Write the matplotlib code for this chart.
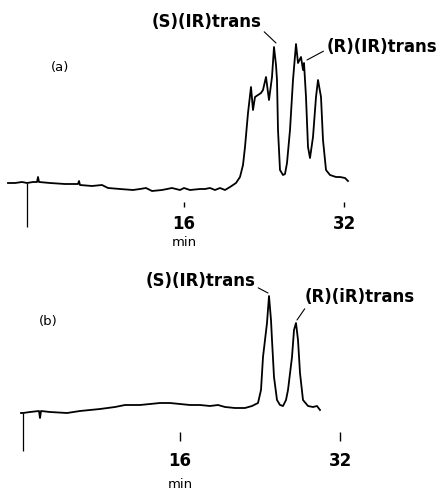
import matplotlib.pyplot as plt

# chromatogram (a): retention time (min) / detector response (arb. units)
time_a = [-1.6, -0.9, -0.2, 0.3, 0.9, 1.3, 1.4, 1.5, 2.6, 4.1, 5.4, 5.5, 5.6, 6.8, 7.8,
          8.4, 9.6, 10.9, 11.6, 12.2, 12.8, 13.8, 14.8, 15.6, 16.0, 16.6, 17.6, 18.1,
          18.6, 19.1, 19.6, 20.1, 20.6, 21.2, 21.6, 21.9, 22.1, 22.4, 22.7, 22.9, 23.1,
          23.4, 23.7, 23.9, 24.2, 24.5, 24.8, 25.0, 25.2, 25.3, 25.4, 25.6, 25.9, 26.1,
          26.3, 26.6, 26.9, 27.2, 27.4, 27.7, 27.9, 28.0, 28.2, 28.4, 28.6, 28.9, 29.2,
          29.4, 29.7, 29.9, 30.2, 30.6, 31.2, 31.6, 32.1, 32.4]
resp_a = [7, 7, 8, 7, 8, 8, 13, 8, 7, 6, 6, 9, 5, 4, 5,
          2, 1, 0, 1, 2, -1, 0, 2, 0, 2, 0, 1, 1,
          2, 0, 2, 0, 3, 7, 13, 25, 43, 77, 103, 80, 93,
          95, 97, 100, 113, 90, 113, 143, 125, 110, 60, 20, 15, 16,
          27, 60, 110, 146, 127, 133, 120, 127, 93, 43, 32, 53, 93,
          110, 93, 50, 20, 15, 13, 13, 12, 9]

# chromatogram (b)
time_b = [0.1, 0.3, 1.0, 1.9, 2.0, 2.1, 3.0, 4.7, 6.0, 8.0, 9.5, 10.5, 12.0, 13.0,
          14.0, 15.0, 16.0, 17.0, 18.0, 19.0, 19.8, 20.5, 21.5, 22.5, 23.2, 23.8,
          24.1, 24.3, 24.7, 24.9, 25.1, 25.2, 25.4, 25.7, 26.0, 26.3, 26.6, 26.8,
          27.2, 27.4, 27.6, 27.8, 28.0, 28.3, 28.8, 29.3, 29.7, 30.0]
resp_b = [-3, -3, -2, -1, -8, -1, -2, -3, -1, 1, 3, 5, 5, 6,
          7, 7, 6, 5, 5, 4, 5, 3, 2, 2, 4, 7,
          20, 53, 87, 114, 90, 70, 33, 10, 5, 4, 10, 20,
          53, 80, 87, 70, 37, 10, 4, 3, 4, 0]

ticks = [16, 32]
inject_t = 0.3

fig = plt.figure(figsize=(4.42, 4.92), dpi=100)
ax1 = fig.add_axes([0, 242/492, 1, 250/492])
ax2 = fig.add_axes([0, 0, 1, 242/492])

ax1.plot(time_a, resp_a, color='black', lw=1.3)
ax2.plot(time_b, resp_b, color='black', lw=1.3)

# injection marks
ax1.vlines(inject_t, -37, 7, color='black', lw=0.9)
ax2.vlines(inject_t, -41, -3, color='black', lw=0.9)

ax1.set_xlim(-2.4, 41.8)
ax1.set_ylim(-60, 190)
ax2.set_xlim(-2.0, 42.2)
ax2.set_ylim(-82, 160)

for ax, spine_y, tlen, pad, min_y in [(ax1, -17, 3.6, 5.5, -53), (ax2, -31, 6.5, 8.0, -75)]:
    for s in ['top', 'right', 'left', 'bottom']:
        ax.spines[s].set_visible(False)
    ax.spines['bottom'].set_position(('data', spine_y))
    ax.set_yticks([])
    ax.set_xticks(ticks)
    ax.set_xticklabels([str(t) for t in ticks])
    ax.tick_params(axis='x', direction='in', length=tlen, width=1.0, pad=pad,
                   labelsize=12)
    for lab in ax.get_xticklabels():
        lab.set_fontweight('bold')
    ax.text(16, min_y, 'min', ha='center', va='center', fontsize=9.5)
    ax.patch.set_alpha(0)

ax1.text(3.65, 123, '(a)', ha='center', va='center', fontsize=9.5)
ax2.text(2.8, 88, '(b)', ha='center', va='center', fontsize=9.5)

lbl = dict(fontsize=12, fontweight='bold', ha='center', va='center')
arr = dict(arrowstyle='-', lw=0.8, color='black', shrinkA=0, shrinkB=0)

ax1.annotate('(S)(IR)trans', xy=(25.2, 147), xytext=(18.25, 168),
             arrowprops=dict(arr, relpos=(1, 0.1)), **lbl)
ax1.annotate('(R)(IR)trans', xy=(28.3, 130), xytext=(35.75, 143),
             arrowprops=dict(arr, relpos=(0, 0.35)), **lbl)
ax2.annotate('(S)(IR)trans', xy=(24.8, 117), xytext=(18.05, 129),
             arrowprops=dict(arr, relpos=(1, 0.2)), **lbl)
ax2.annotate('(R)(iR)trans', xy=(27.7, 90), xytext=(33.95, 113),
             arrowprops=dict(arr, relpos=(0.02, 0)), **lbl)

fig.savefig('out.png', dpi=100)
